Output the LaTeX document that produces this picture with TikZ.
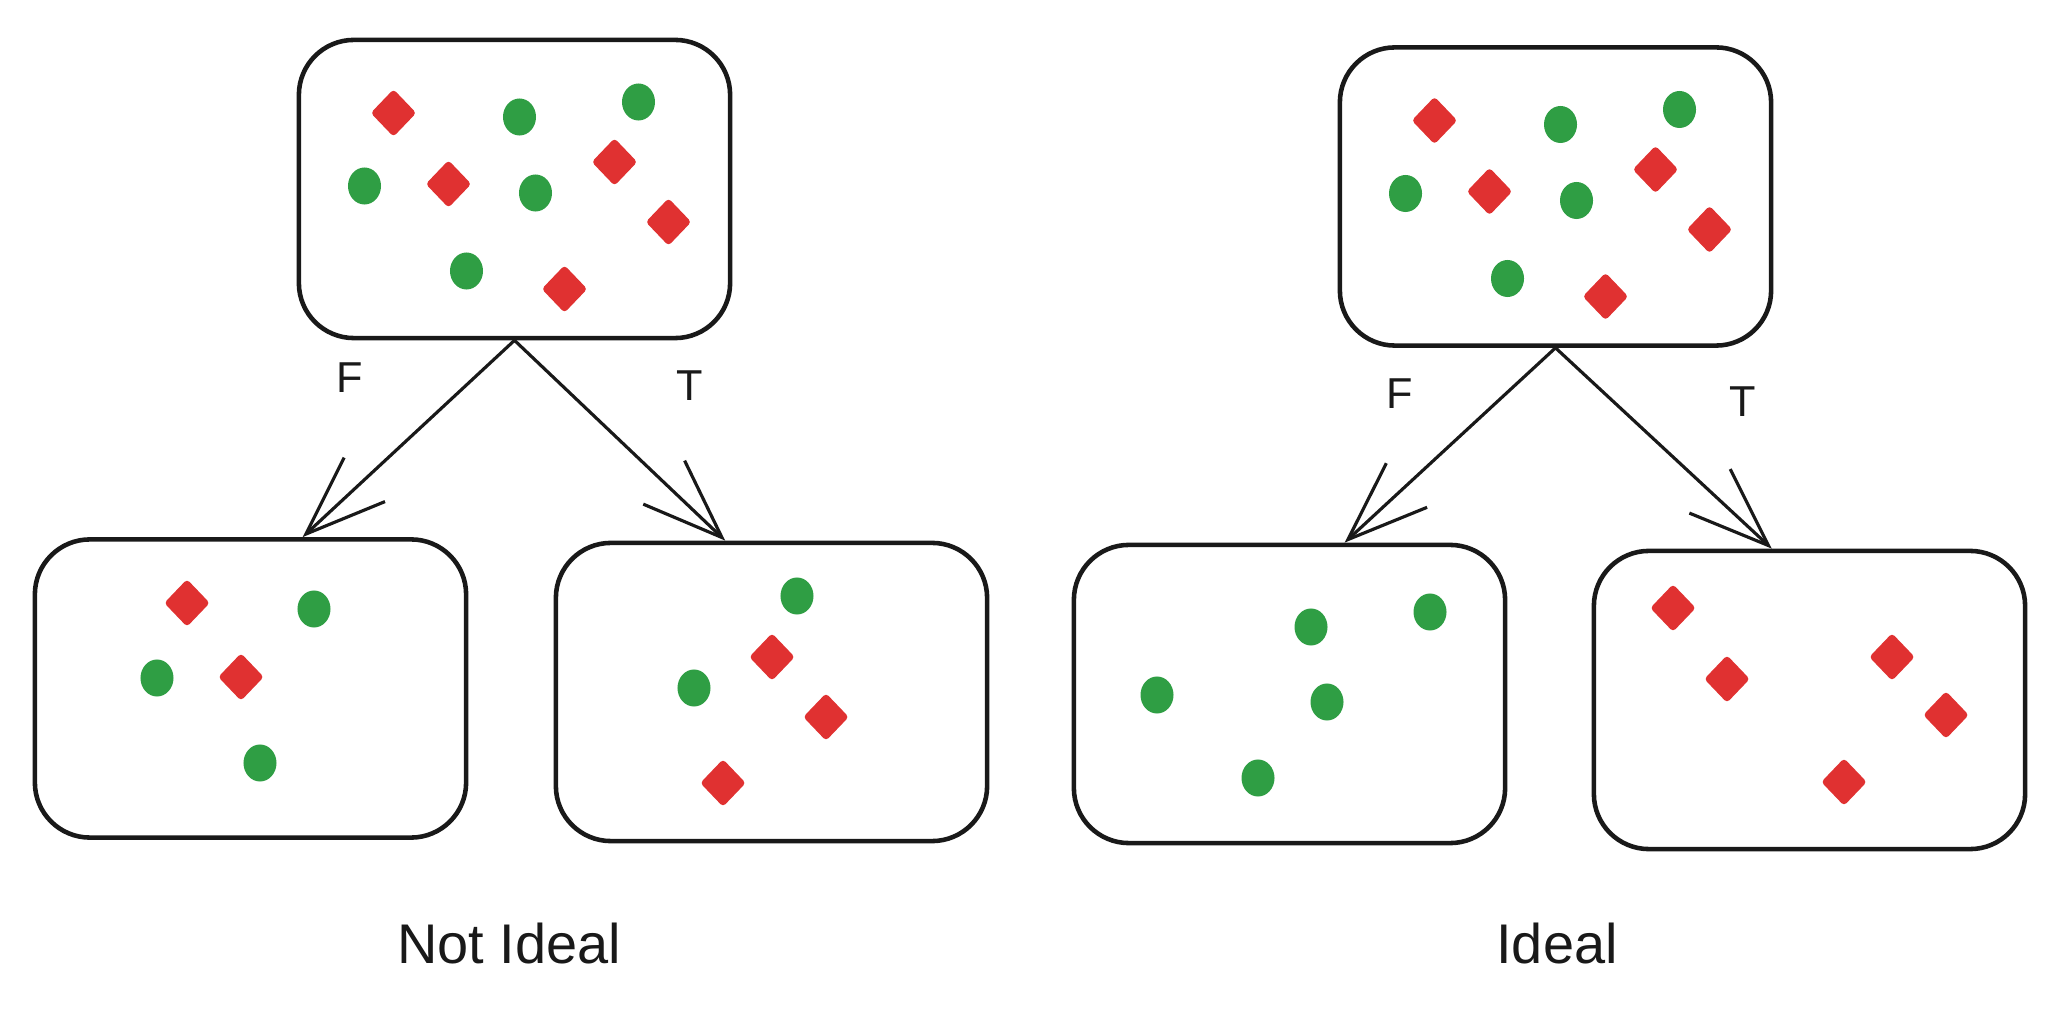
\documentclass[tikz,border=0pt]{standalone}
\usepackage{fontspec}
\setmainfont{Liberation Sans}
\usepackage{xcolor}
\definecolor{ink}{RGB}{25,25,25}
\definecolor{dotgreen}{RGB}{47,158,68}
\definecolor{dotred}{RGB}{224,49,49}
\usetikzlibrary{arrows.meta,shapes.geometric,calc}
\tikzset{
  bin/.style={draw=ink,line width=1.3pt,rounded corners=0.55cm,%
    minimum width=4.31cm,minimum height=2.98cm,inner sep=0pt},
  good/.style={ellipse,fill=dotgreen,inner sep=0pt,%
    minimum width=0.33cm,minimum height=0.37cm},
  bad/.style={diamond,fill=dotred,inner sep=0pt,rounded corners=1pt,%
    minimum width=0.46cm,minimum height=0.48cm},
  flow/.style={-{Straight Barb[length=8mm,width=6mm]},line width=0.9pt,draw=ink},
  branch/.style={font=\fontsize{12.3}{14}\selectfont,text=ink,anchor=base},
  caption/.style={font=\fontsize{15.9}{18}\selectfont,text=ink,anchor=base},
}
\begin{document}
\begin{tikzpicture}[x=0.01cm,y=-0.01cm]
\useasboundingbox (0,0) rectangle (2060,1022);
% two splits of the same set
\node[bin] (lroot)  at (514.5,189) {};
\node[bin] (lfalse) at (250.5,688.5) {};
\node[bin] (ltrue)  at (771.5,692) {};
\node[bin] (rroot)  at (1555.5,196.5) {};
\node[bin] (rfalse) at (1289.5,694) {};
\node[bin] (rtrue)  at (1809.5,700) {};
\draw[flow] (lroot.south)--(lfalse.71);
\draw[flow] (lroot.south)--(ltrue.107);
\draw[flow] (rroot.south)--(rfalse.70);
\draw[flow] (rroot.south)--(rtrue.104);
\node[branch] (lf) at (350,393) {F};
\node[branch] (lt) at (690,401) {T};
\node[branch] (rf) at (1400,409) {F};
\node[branch] (rt) at (1743,417) {T};
\node[caption] (ltitle) at (509,963) {Not Ideal};
\node[caption] (rtitle) at (1557,963) {Ideal};
% mixed parent sets
\foreach \r in {lroot,rroot}{
  \foreach \dx/\dy [count=\i] in {-121/-76,-66/-5,100/-27,154/33,50/100}
    \node[bad] (\r-b\i) at ($(\r)+(\dx,\dy)$) {};
  \foreach \dx/\dy [count=\i] in {5/-72,124/-87,-150/-3,21/4,-48/82}
    \node[good] (\r-g\i) at ($(\r)+(\dx,\dy)$) {};
}
% children
\foreach \x/\y [count=\i] in {187/603,241/677,772/657,826/717,723/783,%
    1673/608,1727/679,1892/657,1946/715,1844/782}
  \node[bad] (b\i) at (\x,\y) {};
\foreach \x/\y [count=\i] in {314/609,157/678,260/763,797/596,694/688,%
    1311/627,1430/612,1157/695,1327/702,1258/778}
  \node[good] (g\i) at (\x,\y) {};
\end{tikzpicture}
\end{document}
